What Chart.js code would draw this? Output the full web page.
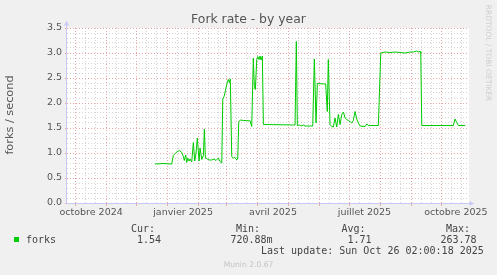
<!DOCTYPE html>
<html>
<head>
<meta charset="utf-8">
<script src="https://cdn.jsdelivr.net/npm/chart.js@4.4.0/dist/chart.umd.min.js"></script>
<style>
  body { margin: 0; background: #f0f0f0; }
  #wrap { position: relative; width: 497px; height: 275px; overflow: hidden; }
  .t { position: absolute; white-space: pre; font-family: 'DejaVu Sans'; color: #555; }
  .m { position: absolute; white-space: pre; font-family: 'DejaVu Sans Mono'; font-size: 10px; line-height: 10px; color: #444; }
</style>
</head>
<body>
<div id="wrap">
  <canvas id="chart" width="497" height="275"></canvas>
  <div class="t" style="left:0;width:497px;text-align:center;top:12.5px;font-size:12.4px;line-height:12.4px;">Fork rate - by year</div>
  <div class="t" style="left:-40px;top:107.5px;width:100px;height:14px;text-align:center;font-size:11.3px;line-height:14px;transform:rotate(-90deg);">forks / second</div>
  <div class="t" style="left:437.5px;top:48px;width:100px;height:10px;text-align:center;font-size:7.5px;line-height:10px;color:#cfcfcf;transform:rotate(90deg);">RRDTOOL / TOBI OETIKER</div>

  <div class="m" style="left:131px;top:223.5px;">Cur:</div>
  <div class="m" style="left:236px;top:223.5px;">Min:</div>
  <div class="m" style="left:341.5px;top:223.5px;">Avg:</div>
  <div class="m" style="left:446px;top:223.5px;">Max:</div>

  <div style="position:absolute;left:14px;top:237px;width:5px;height:5px;background:#00cc00;"></div>
  <div class="m" style="left:26px;top:234.5px;">forks</div>
  <div class="m" style="left:137px;top:234.5px;">1.54</div>
  <div class="m" style="left:230.5px;top:234.5px;">720.88m</div>
  <div class="m" style="left:347.5px;top:234.5px;">1.71</div>
  <div class="m" style="left:440.5px;top:234.5px;">263.78</div>

  <div class="m" style="left:261px;top:246.2px;">Last update: Sun Oct 26 02:00:18 2025</div>
  <div class="t" style="left:0;width:497px;text-align:center;top:260.6px;font-size:7.6px;line-height:7.6px;color:#c4c4c4;">Munin 2.0.67</div>
</div>
<script>
// days counted from 1 Oct 2024
const days = [79.6, 87.6, 96.2, 97.8, 100.5, 103.8, 106.2, 107.8, 108.7, 110.1, 111.1, 112.1, 113.4, 114.4, 116.1, 117.7,
  119.1, 120.4, 121.7, 123.4, 124.4, 126.1, 127.7, 128.7, 129.7, 131.6, 133.6, 136, 138.3, 140.3, 142.6, 144.3, 146,
  147, 148.3, 150.2, 151.5, 152.5, 153.5, 154.5, 155.9, 157.5, 159.2, 160.9, 161.9, 162.9, 164.9, 167.5, 170.8, 173.4,
  174.1, 175.8, 177.4, 178.4, 179.4, 180.8, 181.8, 183.1, 184.1, 185.1, 186.4, 187.4, 218.9, 220.2, 221.2, 223.2, 224.9,
  227.2, 228.9, 233.8, 236.5, 238.1, 239.8, 241.1, 249.4, 251, 252, 253.7, 255.4, 257, 258.7, 260.4, 262, 263.7, 265.4,
  267, 268.7, 270.3, 271.9, 273.6, 275.3, 276.9, 278.6, 280.3, 281.9, 283.6, 288.6, 290.3, 291.8, 301.8, 304.2, 308.5,
  313.4, 318.4, 323.4, 328.4, 333.3, 336.6, 340, 341.3, 343.3, 344, 345, 376.4, 378.1, 379.8, 381.4, 388.1];
const forks = [0.78, 0.79, 0.78, 0.95, 1.01, 1.05, 1.01, 0.93, 0.85, 0.96, 0.81, 0.9, 0.84, 0.88, 0.82, 1.21,
  0.84, 1.0, 1.3, 0.84, 1.1, 0.87, 0.95, 1.48, 0.9, 0.88, 0.86, 0.86, 0.88, 0.85, 0.9, 0.83, 0.8,
  2.08, 2.13, 2.3, 2.41, 2.47, 2.41, 2.48, 0.93, 0.9, 0.91, 0.86, 0.9, 1.63, 1.66, 1.65, 1.65, 1.64,
  1.65, 1.53, 2.9, 2.33, 2.27, 2.87, 2.93, 2.87, 2.94, 2.86, 2.94, 1.57, 1.56, 3.23, 1.55, 1.56, 1.54,
  1.56, 1.54, 1.54, 1.54, 2.88, 1.6, 2.39, 2.38, 1.83, 2.87, 1.57, 1.53, 1.52, 1.7, 1.52, 1.77, 1.57, 1.77,
  1.82, 1.7, 1.67, 1.65, 1.63, 1.6, 1.65, 1.83, 1.68, 1.6, 1.54, 1.53, 1.58, 1.55, 1.55, 3.0, 3.02,
  3.01, 3.02, 3.01, 3.0, 3.02, 3.02, 3.04, 3.02, 3.03, 3.0, 1.55, 1.55, 1.68, 1.61, 1.55, 1.55];

const monthStarts = [0, 31, 61, 92, 123, 151, 182, 212, 243, 273, 304, 335, 365];
const labelDays = [16, 107.5, 197, 288, 379];
const monthLabels = ['octobre 2024', 'janvier 2025', 'avril 2025', 'juillet 2025', 'octobre 2025'];

const X_MIN = -8, X_MAX = 392;
const MAJOR = '#eaa6a6', MINOR = '#d4d4d4', AXIS = '#c8c8f8';

let minorDays = [];
monthStarts.forEach(m => { minorDays.push(m + 10, m + 20); });
minorDays = minorDays.filter(d => d > X_MIN && d < X_MAX);

const xTicks = [...monthStarts, ...minorDays, ...labelDays].sort((a, b) => a - b);

function xKind(v) {
    if (monthStarts.includes(v)) return 'major';
    if (labelDays.includes(v)) return 'label';
    return 'minor';
}
function isHalf(v) {
    return Math.round(v * 10) % 5 === 0;
}

const plotBg = {
    id: 'plotBg',
    beforeDraw(chart) {
        const a = chart.chartArea, ctx = chart.ctx;
        ctx.save();
        ctx.fillStyle = '#ffffff';
        ctx.fillRect(a.left, a.top, a.right - a.left, a.bottom - a.top);
        ctx.restore();
    },
    afterDraw(chart) {
        const a = chart.chartArea, ctx = chart.ctx;
        ctx.save();
        ctx.strokeStyle = AXIS;
        ctx.fillStyle = AXIS;
        ctx.lineWidth = 1;
        ctx.beginPath();
        ctx.moveTo(a.left - 0.5, a.bottom + 0.5);
        ctx.lineTo(a.right + 2, a.bottom + 0.5);
        ctx.moveTo(a.left - 0.5, a.bottom + 0.5);
        ctx.lineTo(a.left - 0.5, a.top - 3);
        ctx.stroke();
        // arrows
        ctx.beginPath();
        ctx.moveTo(a.right + 5, a.bottom + 0.5);
        ctx.lineTo(a.right + 0.5, a.bottom - 2);
        ctx.lineTo(a.right + 0.5, a.bottom + 3);
        ctx.closePath();
        ctx.fill();
        ctx.beginPath();
        ctx.moveTo(a.left - 0.5, a.top - 7);
        ctx.lineTo(a.left - 3, a.top - 2.5);
        ctx.lineTo(a.left + 2, a.top - 2.5);
        ctx.closePath();
        ctx.fill();
        ctx.restore();
    }
};

const ctx = document.getElementById('chart');
new Chart(ctx, {
    type: 'line',
    data: {
        datasets: [{
            label: 'forks',
            data: days.map((d, i) => ({x: d, y: forks[i]})),
            borderColor: '#00cc00',
            borderWidth: 1,
            pointRadius: 0,
            tension: 0,
            fill: false
        }]
    },
    options: {
        responsive: false,
        animation: false,
        devicePixelRatio: 1,
        layout: {padding: {left: 0, top: 28, right: 28, bottom: 0}},
        plugins: {legend: {display: false}, tooltip: {enabled: false}, title: {display: false}},
        scales: {
            x: {
                type: 'linear',
                min: X_MIN,
                max: X_MAX,
                afterBuildTicks: s => { s.ticks = xTicks.map(v => ({value: v})); },
                afterFit: s => { s.height = 72; },
                ticks: {
                    autoSkip: false,
                    maxRotation: 0,
                    padding: 1,
                    color: '#555',
                    font: {family: 'DejaVu Sans', size: 9.5},
                    callback: v => {
                        const i = labelDays.indexOf(v);
                        return i >= 0 ? monthLabels[i] : '';
                    }
                },
                grid: {
                    lineWidth: 1,
                    tickLength: 3,
                    color: c => {
                        if (!c.tick) return MINOR;
                        const k = xKind(c.tick.value);
                        return k === 'major' ? MAJOR : (k === 'label' ? 'rgba(0,0,0,0)' : MINOR);
                    },
                    tickColor: c => (c.tick && xKind(c.tick.value) === 'major') ? MAJOR : 'rgba(0,0,0,0)'
                },
                border: {display: false, dash: [1, 2]}
            },
            y: {
                min: 0,
                max: 3.5,
                afterFit: s => { s.width = 67; },
                ticks: {
                    stepSize: 0.1,
                    autoSkip: false,
                    padding: 3,
                    color: '#555',
                    font: {family: 'DejaVu Sans', size: 9.5},
                    callback: v => isHalf(v) ? v.toFixed(1) : ''
                },
                grid: {
                    lineWidth: 1,
                    tickLength: 2,
                    color: c => (c.tick && isHalf(c.tick.value)) ? MAJOR : MINOR,
                    tickColor: c => (c.tick && isHalf(c.tick.value)) ? MAJOR : 'rgba(0,0,0,0)'
                },
                border: {display: false, dash: [1, 2]}
            }
        }
    },
    plugins: [plotBg]
});
</script>
</body>
</html>
